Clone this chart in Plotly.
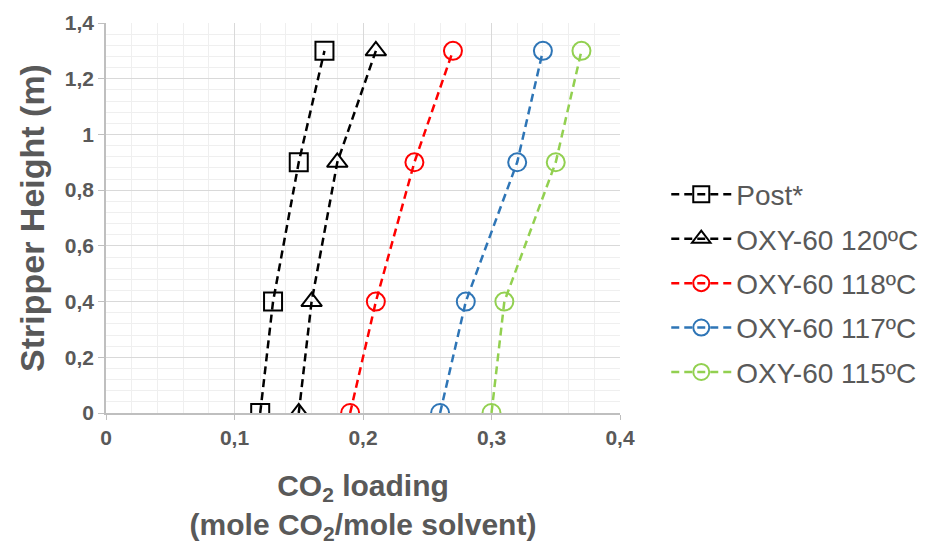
import plotly.graph_objects as go

heights = [0, 0.4, 0.9, 1.3]
series_names = ["Post*", "OXY-60 120ºC", "OXY-60 118ºC", "OXY-60 117ºC", "OXY-60 115ºC"]
post = [0.12, 0.13, 0.15, 0.17]
oxy120 = [0.15, 0.16, 0.18, 0.21]
oxy118 = [0.19, 0.21, 0.24, 0.27]
oxy117 = [0.26, 0.28, 0.32, 0.34]
oxy115 = [0.30, 0.31, 0.35, 0.37]
x_ticks = [0, 0.1, 0.2, 0.3, 0.4]
x_tick_labels = ["0", "0,1", "0,2", "0,3", "0,4"]
y_ticks = [0, 0.2, 0.4, 0.6, 0.8, 1.0, 1.2, 1.4]
y_tick_labels = ["0", "0,2", "0,4", "0,6", "0,8", "1", "1,2", "1,4"]

colors = ["#000000", "#000000", "#ff0000", "#2e75b6", "#92d050"]
symbols = ["square-open", "triangle-up-open", "circle-open", "circle-open", "circle-open"]
all_x = [post, oxy120, oxy118, oxy117, oxy115]

GRAY = "#595959"
FONT = "Arial, Liberation Sans, sans-serif"

fig = go.Figure()
for i, (name, xs, c, s) in enumerate(zip(series_names, all_x, colors, symbols)):
    fig.add_trace(go.Scatter(
        x=xs, y=heights, name=name, mode="lines+markers",
        legendgroup=f"g{i}",
        line=dict(color=c, width=2.5, dash="8px,5px"),
        marker=dict(symbol=s, size=18, color=c, line=dict(color=c, width=2)),
    ))

fig.update_layout(
    width=926, height=545,
    margin=dict(l=106, r=306, t=23, b=132, autoexpand=False),
    paper_bgcolor="white", plot_bgcolor="white",
    separators=", ",
    font=dict(family=FONT, color=GRAY),
    showlegend=True,
    legend=dict(
        x=1.09, y=0.333, xanchor="left", yanchor="middle",
        font=dict(size=28, color=GRAY, family=FONT),
        tracegroupgap=5, itemwidth=60,
        bgcolor="rgba(0,0,0,0)",
    ),
)

fig.update_xaxes(
    range=[0, 0.4], tickvals=x_ticks, ticktext=[f"<b>{t}</b>" for t in x_tick_labels],
    tickfont=dict(size=21, color=GRAY, family=FONT),
    showgrid=True, gridcolor="#d9d9d9", gridwidth=1,
    minor=dict(dtick=0.02, showgrid=True, gridcolor="#efefef", gridwidth=1),
    showline=True, linecolor="#bfbfbf", linewidth=1.5,
    ticks="outside", ticklen=5, tickcolor="#bfbfbf",
    zeroline=False, automargin=False,
    title=dict(text="<b>CO<sub>2</sub> loading<br>(mole CO<sub>2</sub>/mole solvent)</b>",
               font=dict(size=30, color=GRAY, family=FONT), standoff=36),
)
fig.update_yaxes(
    range=[0, 1.4], tickvals=y_ticks, ticktext=[f"<b>{t}</b>" for t in y_tick_labels],
    tickfont=dict(size=21, color=GRAY, family=FONT),
    showgrid=True, gridcolor="#d9d9d9", gridwidth=1,
    minor=dict(dtick=0.04, showgrid=True, gridcolor="#efefef", gridwidth=1),
    showline=True, linecolor="#bfbfbf", linewidth=1.5,
    ticks="outside", ticklen=6, tickcolor="#bfbfbf",
    zeroline=False, automargin=False,
    title=dict(text="<b>Stripper Height (m)</b>",
               font=dict(size=34, color=GRAY, family=FONT), standoff=10),
)

fig.write_html("out.html")
